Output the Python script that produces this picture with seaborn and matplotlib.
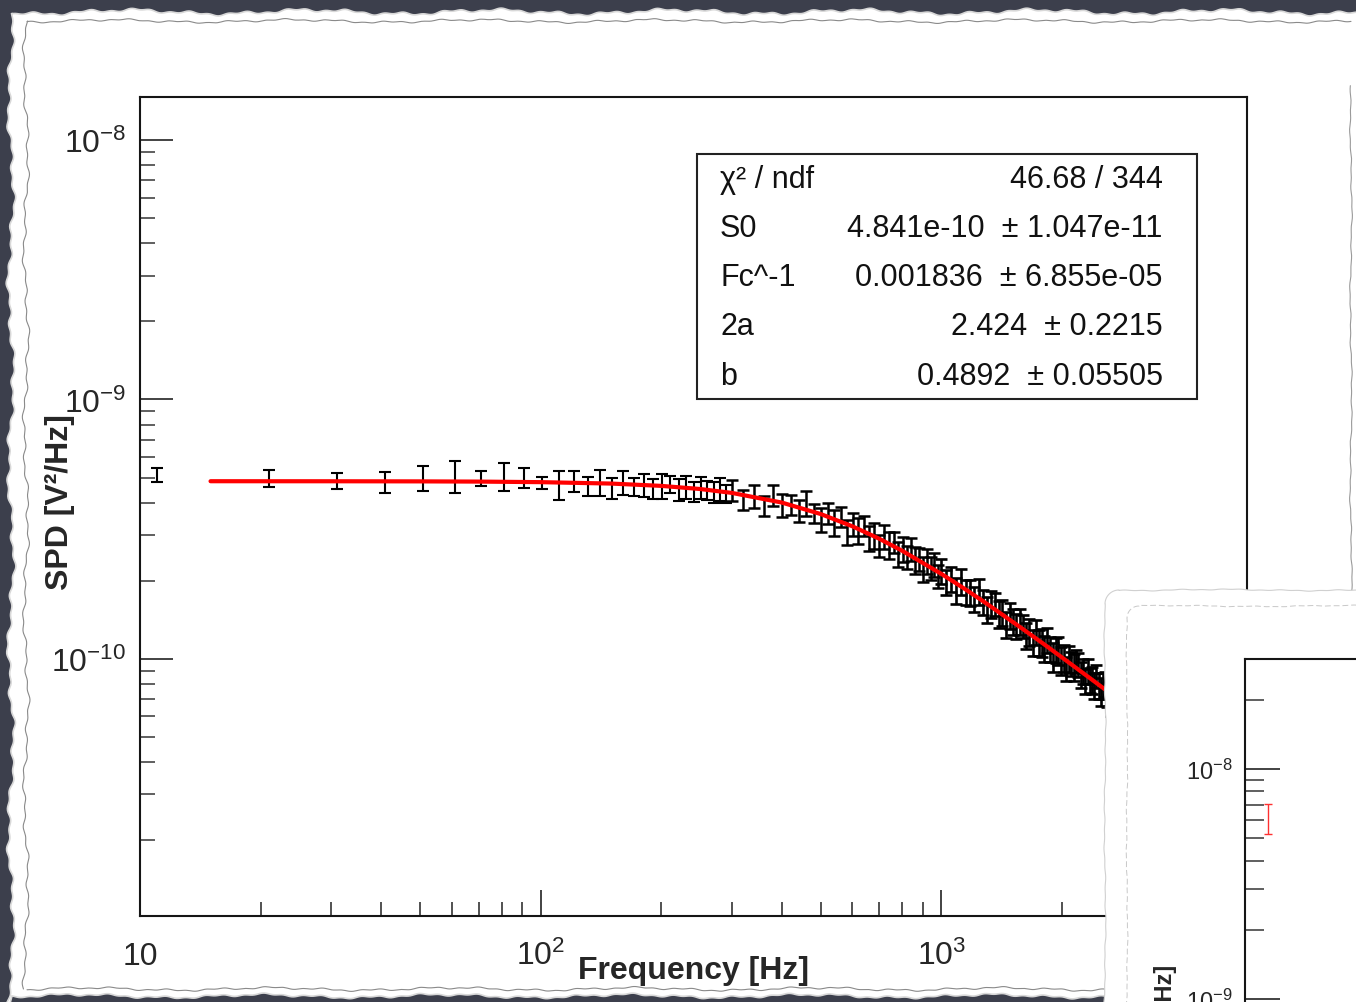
import numpy as np
import matplotlib
matplotlib.use("Agg")
import matplotlib.pyplot as plt
import matplotlib.transforms as mtransforms
import seaborn as sns
from matplotlib.patches import Polygon, Rectangle
from matplotlib.ticker import FixedLocator, FixedFormatter, LogLocator, NullFormatter

# spectral power density, values in units of 1e-10 V^2/Hz
SCALE = 1e-10

low_freq = [11, 21, 31, 41, 51, 61, 71, 81, 91, 101, 111]
low_spd = [5.13, 4.97, 4.87, 4.80, 5.00, 5.08, 4.97, 5.08, 4.98, 4.77, 4.70]
low_err = [0.32, 0.37, 0.34, 0.43, 0.55, 0.71, 0.35, 0.63, 0.44, 0.25, 0.62]

mid_freq = [121, 131, 141, 151, 161, 171, 181, 191, 201, 211, 221, 231, 241, 251, 261, 271, 281, 291]
mid_spd = [4.86, 4.63, 4.81, 4.55, 4.78, 4.60, 4.70, 4.52, 4.66, 4.71, 4.49, 4.62, 4.40, 4.58, 4.47, 4.39, 4.52, 4.33]
mid_err = [0.45, 0.38, 0.55, 0.42, 0.50, 0.36, 0.48, 0.40, 0.52, 0.35, 0.44, 0.47, 0.39, 0.43, 0.37, 0.41, 0.46, 0.34]

knee_freq = [301, 321, 341, 361, 381, 401, 421, 441, 461, 481, 501, 521, 541, 561, 581, 601, 621, 641,
             661, 681, 701, 721, 741, 761, 781, 801, 821, 841, 861, 881, 901, 921, 941, 961, 981]
knee_spd = [4.49, 4.12, 4.26, 3.90, 4.28, 3.92, 3.93, 3.73, 4.00, 3.65, 3.44, 3.65, 3.37, 3.53, 3.09, 3.31, 3.12, 3.27,
            2.92, 3.00, 2.73, 2.96, 2.76, 2.81, 2.54, 2.66, 2.48, 2.66, 2.41, 2.43, 2.23, 2.39, 2.25, 2.31, 2.09]
knee_err = [0.42, 0.36, 0.44, 0.33, 0.40, 0.41, 0.34, 0.37, 0.43, 0.32, 0.36, 0.35, 0.39, 0.31, 0.34, 0.33, 0.36, 0.30,
            0.32, 0.35, 0.27, 0.31, 0.33, 0.26, 0.28, 0.29, 0.25, 0.27, 0.28, 0.24, 0.25, 0.26, 0.23, 0.25, 0.22]

tail_freq = [1001, 1031, 1061, 1091, 1121, 1151, 1181, 1211, 1241, 1271, 1301, 1331, 1361, 1391, 1421, 1451, 1481,
             1511, 1541, 1571, 1601, 1631, 1661, 1691, 1721, 1751, 1781, 1811, 1841, 1871, 1901, 1931, 1961, 1991,
             2021, 2051, 2081, 2111, 2141, 2171, 2201, 2231, 2261, 2291, 2321, 2351, 2381, 2411, 2441, 2471, 2501,
             2531, 2561, 2591, 2621, 2651, 2681]
tail_spd = [2.19, 1.99, 2.04, 1.84, 2.00, 1.81, 1.81, 1.71, 1.82, 1.66, 1.55, 1.63, 1.63, 1.49, 1.51, 1.36, 1.47,
            1.40, 1.34, 1.40, 1.34, 1.23, 1.27, 1.16, 1.27, 1.16, 1.16, 1.10, 1.18, 1.09, 1.02, 1.08, 1.08, 0.99,
            1.01, 0.92, 1.00, 0.96, 0.93, 0.98, 0.95, 0.87, 0.90, 0.82, 0.90, 0.83, 0.83, 0.79, 0.86, 0.79, 0.75,
            0.79, 0.80, 0.73, 0.75, 0.68, 0.75]
tail_err = [0.24, 0.22, 0.23, 0.21, 0.23, 0.20, 0.21, 0.19, 0.21, 0.18, 0.18, 0.19, 0.17, 0.18, 0.17, 0.16, 0.17,
            0.16, 0.15, 0.16, 0.14, 0.14, 0.15, 0.13, 0.14, 0.13, 0.14, 0.13, 0.13, 0.12, 0.13, 0.12, 0.13, 0.12,
            0.12, 0.10, 0.12, 0.10, 0.11, 0.10, 0.10, 0.10, 0.10, 0.09, 0.10, 0.09, 0.10, 0.09, 0.09, 0.09, 0.09,
            0.09, 0.09, 0.08, 0.09, 0.08, 0.09]

# fitted model curve
fit_freq = [15, 30, 50, 70, 100, 150, 200, 250, 300, 400, 500, 600, 700, 800, 1000, 1150, 1300, 1600,
            1800, 2000, 2400, 2700, 2900]
fit_spd = [4.84, 4.838, 4.833, 4.824, 4.80, 4.74, 4.644, 4.517, 4.364, 4.005, 3.618, 3.245, 2.906, 2.608,
           2.128, 1.853, 1.631, 1.302, 1.143, 1.014, 0.823, 0.718, 0.661]

stat_names = ["χ² / ndf", "S0", "Fc^-1", "2a", "b"]
stat_values = ["46.68 / 344", "4.841e-10  ± 1.047e-11", "0.001836  ± 6.855e-05",
               "2.424  ± 0.2215", "0.4892  ± 0.05505"]

xtick_vals = [10, 100, 1000]
xtick_labels = ["10", r"$\mathregular{10^{2}}$", r"$\mathregular{10^{3}}$"]
ytick_vals = [1e-10, 1e-9, 1e-8]
ytick_labels = [r"$\mathregular{10^{-10}}$", r"$\mathregular{10^{-9}}$", r"$\mathregular{10^{-8}}$"]

# second slide partly covering the first one
inset_freq = [11.6]
inset_spd = [61.2]
inset_err = [9.0]
inset_ytick_vals = [1e-9, 1e-8]
inset_ytick_labels = [r"$\mathregular{10^{-9}}$", r"$\mathregular{10^{-8}}$"]

sns.set_style("white")
plt.rcParams["font.family"] = ["Liberation Sans", "DejaVu Sans"]
plt.rcParams["mathtext.fontset"] = "custom"
plt.rcParams["mathtext.rm"] = "Liberation Sans"

W, H = 1356, 1003
fig = plt.figure(figsize=(W / 100, H / 100), dpi=100, facecolor="#3c3f4c")


def wobble(t, amp, ph):
    return amp * (0.5 * np.sin(t / 29.0 + ph) + 0.3 * np.sin(t / 8.3 + 2.1 * ph) + 0.2 * np.sin(t / 3.1 + 0.7 * ph))


# torn paper background
bg = fig.add_axes([0, 0, 1, 1])
bg.set_xlim(0, W)
bg.set_ylim(H, 0)
bg.axis("off")
tx = np.linspace(12, W + 10, 800)
ty = np.linspace(14, H + 10, 600)
top_edge = 13 + wobble(tx, 4, 0.3)
bot_edge = 997 + wobble(tx, 3, 2.0)
left_edge = 11 + wobble(ty, 5, 1.1)
pts = np.vstack([np.column_stack([tx, top_edge]),
                 np.column_stack([tx[::-1], bot_edge[::-1]]),
                 np.column_stack([left_edge[::-1], ty[::-1]])])
bg.add_patch(Polygon(pts, closed=True, facecolor="white", edgecolor="#d8d8d8", lw=1.2))
ix = np.linspace(27, 1351, 800)
iy = np.linspace(22, 990, 600)
bg.plot(ix, 22 + wobble(ix, 2.5, 0.9), color="#8a8a8a", lw=0.8)
bg.plot(ix, 990 + wobble(ix, 2.5, 1.7), color="#8a8a8a", lw=0.8)
bg.plot(26 + wobble(iy, 4, 2.4), iy, color="#8a8a8a", lw=0.8)
bg.plot(1351 + wobble(iy[40:], 1.5, 0.5), iy[40:], color="#9a9a9a", lw=0.8)

# main plot
ax = fig.add_axes([140 / W, 1 - 917 / H, 1107 / W, 819 / H])
ax.set_xscale("log")
ax.set_yscale("log")
for f, v, e, lw in [(low_freq, low_spd, low_err, 1.5), (mid_freq, mid_spd, mid_err, 1.5),
                    (knee_freq, knee_spd, knee_err, 1.8), (tail_freq, tail_spd, tail_err, 1.9)]:
    ax.errorbar(f, np.array(v) * SCALE, yerr=np.array(e) * SCALE, fmt="none", ecolor="black",
                elinewidth=lw, capsize=4.2, capthick=lw, zorder=2)
sns.lineplot(x=fit_freq, y=np.array(fit_spd) * SCALE, color="red", lw=3, errorbar=None, ax=ax, zorder=3)

ax.set_xlim(10, 5800)
ax.set_ylim(1.02e-11, 1.466e-8)
for s in ax.spines.values():
    s.set_linewidth(1.5)
    s.set_color("#151515")

ax.xaxis.set_major_locator(FixedLocator(xtick_vals))
ax.xaxis.set_major_formatter(NullFormatter())
ax.xaxis.set_minor_locator(LogLocator(base=10, subs=np.arange(2, 10), numticks=20))
ax.xaxis.set_minor_formatter(NullFormatter())
ax.yaxis.set_major_locator(FixedLocator(ytick_vals))
ax.yaxis.set_major_formatter(FixedFormatter(ytick_labels))
ax.yaxis.set_minor_locator(LogLocator(base=10, subs=np.arange(2, 10), numticks=20))
ax.yaxis.set_minor_formatter(NullFormatter())
ax.tick_params(axis="x", which="major", direction="in", length=19, width=1.2, color="#222",
               bottom=True, top=False)
ax.tick_params(axis="x", which="minor", direction="in", length=10, width=1.2, color="#333",
               bottom=True, top=False)
ax.tick_params(axis="y", which="major", direction="in", length=24, width=1.2, color="#222",
               left=True, right=False, labelsize=23, pad=10)
ax.tick_params(axis="y", which="minor", direction="in", length=11, width=1.2, color="#444",
               left=True, right=False)

xlab_tr = mtransforms.blended_transform_factory(ax.transData, ax.transAxes)
for f, lab in zip(xtick_vals, xtick_labels):
    ax.text(f, -0.0586, lab, transform=xlab_tr, ha="center", va="baseline", fontsize=23)

ax.set_xlabel("Frequency [Hz]", fontsize=23, fontweight="bold")
ax.xaxis.set_label_coords(0.5, -0.0476)
ax.xaxis.label.set_va("top")
ax.set_ylabel("SPD [V²/Hz]", fontsize=23, fontweight="bold")
ax.yaxis.set_label_coords(-0.059, 0.507)

# fit statistics box
ax.add_patch(Rectangle((0.503, 0.631), 0.452, 0.299, transform=ax.transAxes, facecolor="white",
                       edgecolor="#222", lw=1.5, zorder=5))
row_y = [0.900, 0.840, 0.780, 0.720, 0.659]
for yy, name, val in zip(row_y, stat_names, stat_values):
    ax.text(0.524, yy, name, transform=ax.transAxes, ha="left", va="center", fontsize=22, zorder=6,
            color="#111")
    ax.text(0.924, yy, val, transform=ax.transAxes, ha="right", va="center", fontsize=22, zorder=6,
            color="#111")

# overlapping second paper
ov = fig.add_axes([0, 0, 1, 1])
ov.set_xlim(0, W)
ov.set_ylim(H, 0)
ov.axis("off")
ov.patch.set_alpha(0)
a = np.linspace(0, np.pi / 2, 20)
px = np.linspace(W + 10, 1119, 300)
py = np.linspace(605, H + 10, 300)
p2 = np.vstack([[[W + 10, H + 10]],
                np.column_stack([px, 591 + wobble(px, 1.2, 0.4)]),
                np.column_stack([1119 - 14 * np.sin(a), 605 - 14 * np.cos(a)]),
                np.column_stack([1105 + wobble(py, 1.2, 1.3), py])])
ov.add_patch(Polygon(p2, closed=True, facecolor="white", edgecolor="#d0d0d0", lw=0.8))
qx = np.linspace(1139, W + 5, 300)
qy = np.linspace(619, H + 5, 300)
inner2 = np.vstack([np.column_stack([qx[::-1], 607 + wobble(qx[::-1], 1.0, 2.2)]),
                    np.column_stack([1139 - 12 * np.sin(a), 619 - 12 * np.cos(a)]),
                    np.column_stack([1127 + wobble(qy, 1.0, 0.8), qy])])
ov.plot(inner2[:, 0], inner2[:, 1], color="#c8c8c8", lw=0.7, ls=(0, (6, 3)))

ins = fig.add_axes([1245 / W, 1 - 1103 / H, (W - 1245) / W, 443 / H])
ins.set_xscale("log")
ins.set_yscale("log")
ins.errorbar(inset_freq, np.array(inset_spd) * SCALE, yerr=np.array(inset_err) * SCALE, fmt="none",
             ecolor="#ff3030", elinewidth=1.0, capsize=3, capthick=1.0)
ins.set_xlim(10, 20.5)
ins.set_ylim(3.566e-10, 3.007e-8)
ins.spines["right"].set_visible(False)
ins.spines["bottom"].set_visible(False)
for s in ["left", "top"]:
    ins.spines[s].set_linewidth(1.5)
    ins.spines[s].set_color("#151515")
ins.set_xticks([])
ins.xaxis.set_minor_locator(FixedLocator([]))
ins.yaxis.set_major_locator(FixedLocator(inset_ytick_vals))
ins.yaxis.set_major_formatter(FixedFormatter(inset_ytick_labels))
ins.yaxis.set_minor_locator(LogLocator(base=10, subs=np.arange(2, 10), numticks=20))
ins.yaxis.set_minor_formatter(NullFormatter())
ins.tick_params(axis="y", which="major", direction="in", length=25, width=1.2, color="#222",
                left=True, labelsize=17, pad=9)
ins.tick_params(axis="y", which="minor", direction="in", length=14, width=1.2, color="#444", left=True)
ins.set_ylabel("SPD [V²/Hz]", fontsize=17, fontweight="bold")
ins.yaxis.set_label_coords(-0.613, 0.165)

fig.savefig("out.png", dpi=100, facecolor=fig.get_facecolor())
